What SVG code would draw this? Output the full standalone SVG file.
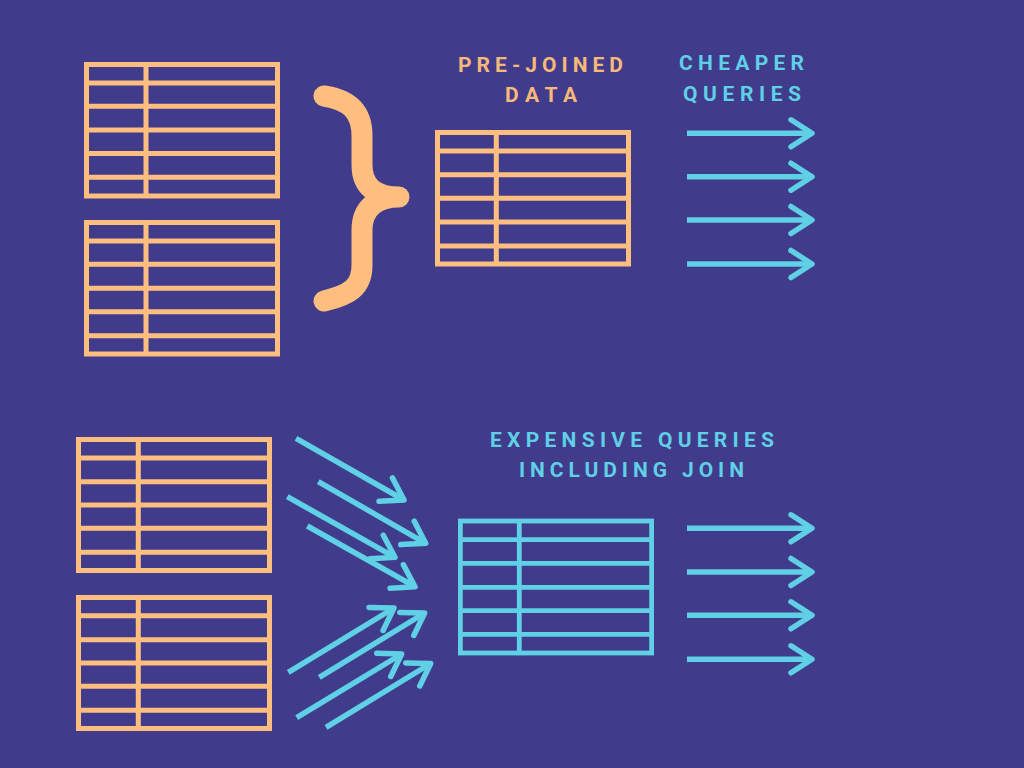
<svg xmlns="http://www.w3.org/2000/svg" width="1024" height="768" viewBox="0 0 1024 768">
<defs>
<style>
.bg{fill:#413B8C}
.tbl{fill:none;stroke:#FDBE7F;stroke-width:5}
.tblc{fill:none;stroke:#5FD0E5;stroke-width:4.8}
.arr{fill:none;stroke:#5FD0E5;stroke-width:5.5;stroke-linecap:butt}
.lbl{font-family:Roboto,"Liberation Sans",sans-serif;font-weight:700;font-size:21px}
.o{fill:#F7B97A}
.c{fill:#5FD0E5}
</style>
<marker id="ah" markerUnits="userSpaceOnUse" viewBox="-30 -20 40 40" markerWidth="40" markerHeight="40" refX="0" refY="0" orient="auto" overflow="visible">
<path d="M -21 -13.5 L 0 0 L -21 13.5" fill="none" stroke="#5FD0E5" stroke-width="5.5" stroke-linecap="round" stroke-linejoin="round"/>
</marker>
</defs>
<rect class="bg" x="0" y="0" width="1024" height="768"/>

<g id="table-a1">
<rect class="tbl" x="86.5" y="64.5" width="191" height="131.5"/>
<path class="tbl" d="M146 64.5V196M86.5 83H277.5M86.5 106.3H277.5M86.5 130H277.5M86.5 153.5H277.5M86.5 177.3H277.5"/>
</g>
<g id="table-a2">
<rect class="tbl" x="86.5" y="222.5" width="191" height="131.5"/>
<path class="tbl" d="M146 222.5V354M86.5 241H277.5M86.5 264.3H277.5M86.5 288.3H277.5M86.5 311.7H277.5M86.5 335.7H277.5"/>
</g>

<g id="brace">
<path d="M 324 96 C 350 100 362 112 362 136 L 362 165 C 362 186 375 197 399 197 C 375 197 362 209 362 230 L 362 265 C 362 287 350 295 324 301" fill="none" stroke="#FDBE7F" stroke-width="21" stroke-linecap="round" stroke-linejoin="round"/>
</g>

<g id="label-prejoined">
<text class="lbl o" x="458" y="72" textLength="165" lengthAdjust="spacing">PRE-JOINED</text>
<text class="lbl o" x="505" y="102" textLength="72" lengthAdjust="spacing">DATA</text>
</g>

<g id="table-prejoined">
<rect class="tbl" x="437.5" y="132.5" width="191" height="131.5"/>
<path class="tbl" d="M496.3 132.5V264M437.5 151H628.5M437.5 174.7H628.5M437.5 198.3H628.5M437.5 222H628.5M437.5 246H628.5"/>
</g>

<g id="label-cheaper">
<text class="lbl c" x="679" y="70" textLength="125" lengthAdjust="spacing">CHEAPER</text>
<text class="lbl c" x="683" y="100.5" textLength="118" lengthAdjust="spacing">QUERIES</text>
</g>

<g id="table-b1">
<rect class="tbl" x="78.5" y="439.5" width="191" height="131"/>
<path class="tbl" d="M138.3 439.5V570.5M78.5 458H269.5M78.5 481.7H269.5M78.5 505H269.5M78.5 528.3H269.5M78.5 552.3H269.5"/>
</g>
<g id="table-b2">
<rect class="tbl" x="78.5" y="597.5" width="191" height="131"/>
<path class="tbl" d="M138.3 597.5V728.5M78.5 615.7H269.5M78.5 639.7H269.5M78.5 663H269.5M78.5 686.3H269.5M78.5 710.3H269.5"/>
</g>

<g id="label-expensive">
<text class="lbl c" x="490" y="447" textLength="284" lengthAdjust="spacing">EXPENSIVE QUERIES</text>
<text class="lbl c" x="519" y="477" textLength="225" lengthAdjust="spacing">INCLUDING JOIN</text>
</g>

<g id="table-joined">
<rect class="tblc" x="460.4" y="521" width="191.2" height="132"/>
<path class="tblc" d="M519.3 521V653M460.4 539.7H651.6M460.4 563.3H651.6M460.4 587.3H651.6M460.4 610.7H651.6M460.4 634.3H651.6"/>
</g>

<g id="connectors">
<path class="arr" marker-end="url(#ah)" d="M687 133.3H812"/>
<path class="arr" marker-end="url(#ah)" d="M687 176.7H812"/>
<path class="arr" marker-end="url(#ah)" d="M687 220H812"/>
<path class="arr" marker-end="url(#ah)" d="M687 264H812"/>

<path class="arr" marker-end="url(#ah)" d="M296 438.3L404 500"/>
<path class="arr" marker-end="url(#ah)" d="M318.3 481.7L425.7 543.3"/>
<path class="arr" marker-end="url(#ah)" d="M287.3 496.7L395 557.3"/>
<path class="arr" marker-end="url(#ah)" d="M307.3 526L415 586.7"/>

<path class="arr" marker-end="url(#ah)" d="M288.3 672.3L394 608"/>
<path class="arr" marker-end="url(#ah)" d="M319.3 677.3L424.7 613"/>
<path class="arr" marker-end="url(#ah)" d="M296.7 717.7L401.7 654"/>
<path class="arr" marker-end="url(#ah)" d="M326 727.3L430.7 663.5"/>

<path class="arr" marker-end="url(#ah)" d="M687 528.3H812"/>
<path class="arr" marker-end="url(#ah)" d="M687 572H812"/>
<path class="arr" marker-end="url(#ah)" d="M687 615.3H812"/>
<path class="arr" marker-end="url(#ah)" d="M687 659.3H812"/>
</g>
</svg>
